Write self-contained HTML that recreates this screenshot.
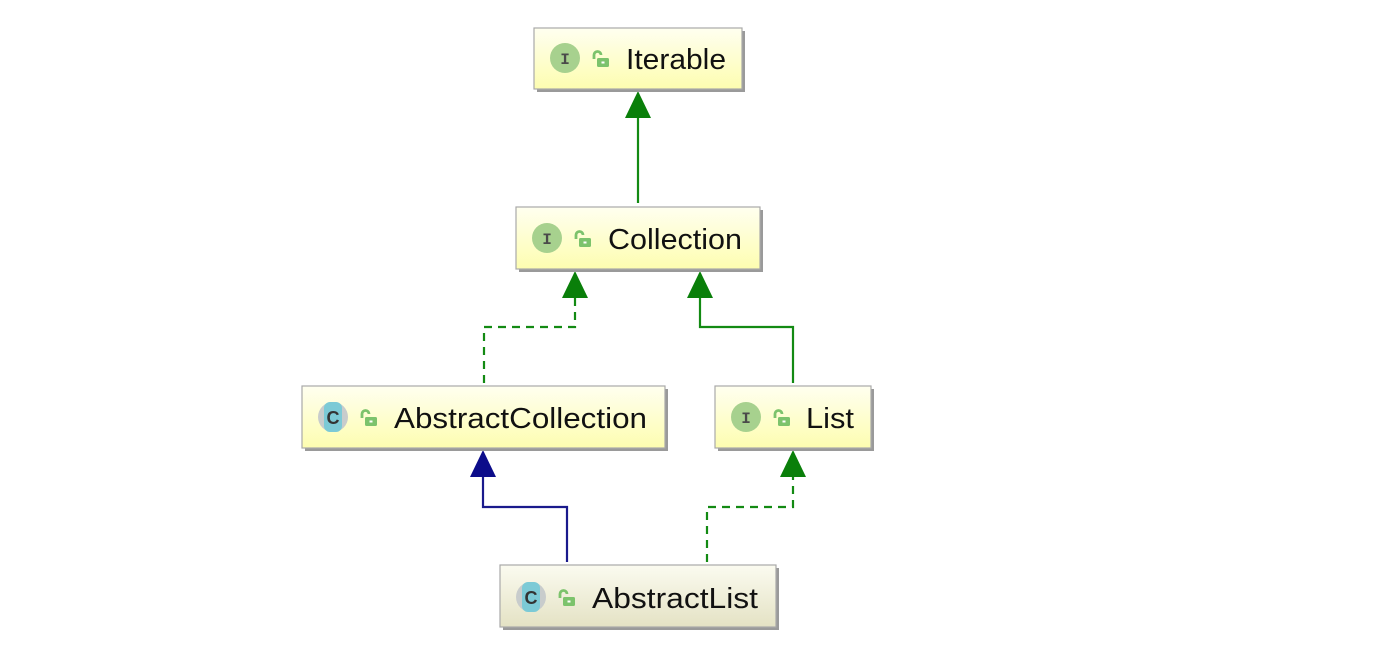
<!DOCTYPE html>
<html><head><meta charset="utf-8"><style>
html,body{margin:0;padding:0;background:#fff;}
svg{display:block}
text{font-family:"Liberation Sans",sans-serif;font-size:29px;fill:#111;}
</style></head><body>
<svg width="1390" height="664" viewBox="0 0 1390 664" xmlns="http://www.w3.org/2000/svg">
<defs>
<linearGradient id="y" x1="0" y1="0" x2="0" y2="1"><stop offset="0" stop-color="#fffff0"/><stop offset="1" stop-color="#fdfdb0"/></linearGradient>
<linearGradient id="g" x1="0" y1="0" x2="0" y2="1"><stop offset="0" stop-color="#fbfbf0"/><stop offset="1" stop-color="#e4e2c4"/></linearGradient>
<g id="lock"><path d="M4 13 V9 a3.5 3.5 0 0 1 7 0" fill="none" stroke="#7cc36c" stroke-width="2.8"/><rect x="7" y="12" width="12" height="9" rx="1.5" fill="#7cc36c"/><rect x="11.5" y="15.5" width="3" height="2" fill="#fff"/></g>
<g id="ii"><circle r="15" fill="#a7d18e"/><text x="0" y="6" text-anchor="middle" style="font-family:'Liberation Mono',monospace;font-size:16px;font-weight:bold;fill:#4a4a4a">I</text></g>
<g id="cc"><circle r="15" fill="#c8cccc"/><rect x="-9" y="-15" width="18" height="30" rx="6" fill="#7ccad6"/><text x="0" y="7" text-anchor="middle" style="font-size:18px;font-weight:bold;fill:#333">C</text></g>
</defs>

<g fill="none" stroke-width="2.2">
<path d="M638 203 V116" stroke="#138a13"/>
<path d="M484 383 V327 H575 V296" stroke="#138a13" stroke-dasharray="8,6"/>
<path d="M793 383 V327 H700 V296" stroke="#138a13"/>
<path d="M567 562 V507 H483 V476" stroke="#1a1a8c"/>
<path d="M707 562 V507 H793 V476" stroke="#138a13" stroke-dasharray="8,6"/>
</g>
<g fill="#0a7f0a">
<polygon points="638,91 625,118 651,118"/>
<polygon points="575,271 562,298 588,298"/>
<polygon points="700,271 687,298 713,298"/>
<polygon points="793,450 780,477 806,477"/>
</g>
<polygon points="483,450 470,477 496,477" fill="#0c0c8a"/>

<g stroke="#a9a9a9" stroke-width="1.2">
<rect x="537" y="31" width="208" height="61" fill="#9a9a9a" stroke="none"/>
<rect x="534" y="28" width="208" height="61" fill="url(#y)"/>
<rect x="519" y="210" width="244" height="62" fill="#9a9a9a" stroke="none"/>
<rect x="516" y="207" width="244" height="62" fill="url(#y)"/>
<rect x="305" y="389" width="363" height="62" fill="#9a9a9a" stroke="none"/>
<rect x="302" y="386" width="363" height="62" fill="url(#y)"/>
<rect x="718" y="389" width="156" height="62" fill="#9a9a9a" stroke="none"/>
<rect x="715" y="386" width="156" height="62" fill="url(#y)"/>
<rect x="503" y="568" width="276" height="62" fill="#9a9a9a" stroke="none"/>
<rect x="500" y="565" width="276" height="62" fill="url(#g)"/>
</g>

<use href="#ii" x="565" y="58"/><use href="#lock" x="590" y="46"/>
<text x="626" y="69" textLength="100" lengthAdjust="spacingAndGlyphs">Iterable</text>

<use href="#ii" x="547" y="238"/><use href="#lock" x="572" y="226"/>
<text x="608" y="249" textLength="134" lengthAdjust="spacingAndGlyphs">Collection</text>

<use href="#cc" x="333" y="417"/><use href="#lock" x="358" y="405"/>
<text x="394" y="428" textLength="253" lengthAdjust="spacingAndGlyphs">AbstractCollection</text>

<use href="#ii" x="746" y="417"/><use href="#lock" x="771" y="405"/>
<text x="806" y="428" textLength="48" lengthAdjust="spacingAndGlyphs">List</text>

<use href="#cc" x="531" y="597"/><use href="#lock" x="556" y="585"/>
<text x="592" y="608" textLength="166" lengthAdjust="spacingAndGlyphs">AbstractList</text>
</svg>
</body></html>
